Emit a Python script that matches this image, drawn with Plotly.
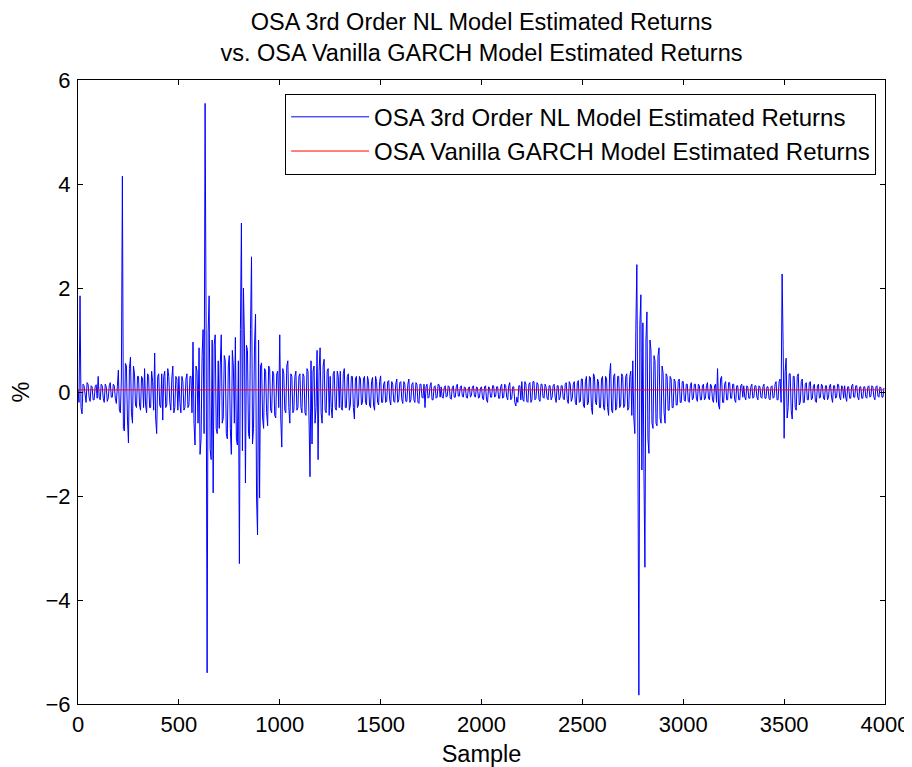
import plotly.graph_objects as go

sample_step = 10
mid_offset = 5

# OSA 3rd Order NL Model Estimated Returns (%) at samples 0, 10, 20, ... (10 values per 100 samples)
nl_returns = [
    0.05, 1.85, -0.42, 0.12, -0.2, 0.15, -0.18, 0.1, -0.15, 0.14,
    0.3, -0.15, 0.12, -0.2, 0.1, -0.12, 0.18, -0.1, 0.12, -0.22,
    0.42, -0.4, 4.15, -0.75, 0.5, -0.98, 0.67, -0.6, 0.35, -0.3,
    0.3, -0.35, 0.25, 0.45, -0.4, 0.3, -0.3, 0.2, 0.75, -0.8,
    0.35, -0.3, -0.54, 0.4, -0.25, 0.3, -0.35, 0.5, -0.3, 0.25,
    0.3, -0.4, 0.2, -0.3, 0.35, -0.25, 0.3, 0.96, -1.02, 0.4,
    0.85, -0.9, 1.2, 5.55, -5.4, 1.85, -1.3, -1.94, 1.1, -0.8,
    -0.7, 1.1, -0.5, 0.6, -0.9, 0.7, -1.2, 0.5, 1.05, -1.02,
    -3.3, 3.25, 2.0, -1.75, 0.8, -0.9, 2.6, -0.7, 1.5, -2.75,
    -2.04, 0.56, -0.7, 0.4, -0.65, 0.45, -0.4, 0.35, -0.5, 0.4,
    1.1, -1.06, 0.35, -0.4, 0.6, -0.6, 0.3, -0.35, 0.4, -0.3,
    0.35, -0.4, 0.3, -0.45, 0.4, -1.63, -1.0, 0.5, -0.3, -1.3,
    0.85, -0.6, 0.63, -0.4, 0.45, 0.3, -0.5, 0.4, -0.35, 0.3,
    0.4, -0.35, 0.45, -0.3, 0.35, -0.25, 0.3, -0.52, 0.3, -0.25,
    0.25, -0.2, 0.3, -0.25, 0.2, -0.3, 0.28, -0.35, 0.2, -0.25,
    0.31, -0.2, 0.2, -0.18, 0.22, -0.25, 0.15, -0.2, 0.25, -0.15,
    0.2, -0.22, 0.15, -0.18, 0.25, -0.15, 0.18, -0.2, 0.15, -0.22,
    0.15, -0.12, -0.3, 0.15, -0.1, 0.18, -0.15, 0.12, -0.1, 0.14,
    0.1, -0.12, 0.12, -0.08, 0.1, -0.14, 0.12, -0.1, 0.15, -0.08,
    0.12, -0.1, 0.08, -0.12, 0.1, -0.06, 0.12, -0.1, 0.08, -0.1,
    0.1, -0.15, 0.12, -0.2, 0.08, -0.1, 0.12, -0.08, 0.1, -0.12,
    0.15, -0.1, 0.12, -0.15, 0.18, -0.12, 0.1, -0.27, -0.2, 0.12,
    0.2, -0.18, 0.15, -0.2, 0.18, -0.15, 0.2, -0.12, 0.15, -0.18,
    0.15, -0.12, 0.1, -0.15, 0.12, -0.1, 0.15, -0.2, 0.12, -0.1,
    0.12, -0.15, 0.18, -0.22, 0.15, -0.12, 0.2, -0.25, 0.22, -0.18,
    0.25, -0.3, 0.3, -0.2, 0.28, -0.43, 0.3, -0.25, 0.2, -0.3,
    0.3, -0.35, 0.25, -0.45, 0.55, -0.4, 0.35, -0.3, 0.3, -0.25,
    0.3, -0.25, 0.35, -0.3, 0.4, 0.6, -0.8, 2.45, -5.83, 1.87,
    1.33, -3.37, 1.54, -1.18, 0.8, -0.7, 0.6, -0.65, 0.85, -0.6,
    0.37, -0.6, 0.3, -0.35, 0.25, -0.3, 0.2, -0.25, 0.25, -0.2,
    0.2, -0.18, 0.15, -0.2, 0.18, -0.12, 0.15, -0.18, 0.12, -0.15,
    0.15, -0.12, 0.18, -0.15, 0.12, -0.2, 0.15, 0.45, -0.33, 0.3,
    -0.2, 0.2, -0.15, 0.18, -0.12, 0.15, -0.2, 0.12, -0.15, 0.15,
    0.12, -0.15, 0.1, -0.12, 0.15, -0.1, 0.12, -0.15, 0.1, -0.12,
    0.15, -0.12, 0.1, -0.15, 0.12, -0.1, 0.2, -0.15, 0.25, 2.27,
    -0.89, 0.65, -0.3, 0.35, -0.52, 0.3, -0.35, 0.35, -0.2, 0.25,
    -0.2, 0.18, -0.15, 0.2, -0.12, 0.15, -0.2, 0.15, -0.1, 0.12,
    -0.15, 0.12, -0.1, 0.15, -0.2, 0.12, -0.1, 0.14, -0.15, 0.1,
    0.12, -0.18, 0.1, -0.12, 0.15, -0.1, 0.12, -0.15, 0.1, -0.12,
    0.1, -0.12, 0.12, -0.08, 0.1, -0.15, 0.12, -0.1, 0.08, -0.1,
]

# OSA 3rd Order NL Model Estimated Returns (%) at samples 5, 15, 25, ...
nl_returns_mid = [
    -0.2, -0.3, 0.15, -0.12, 0.18, -0.1, 0.12, -0.15, 0.1, -0.12,
    -0.1, 0.15, -0.12, 0.15, -0.18, 0.12, -0.1, 0.15, -0.12, 0.1,
    -0.35, 0.25, -0.7, 0.55, -0.5, 0.45, -0.4, 0.5, -0.25, 0.3,
    -0.25, 0.3, -0.3, -0.25, 0.35, -0.3, 0.4, -0.35, -0.5, 0.3,
    -0.25, 0.35, 0.3, -0.3, 0.45, -0.2, 0.25, -0.4, 0.3, -0.35,
    -0.2, 0.3, -0.35, 0.25, -0.3, 0.3, -0.4, -0.6, 0.5, -0.6,
    -1.2, 0.7, -0.8, 1.2, 1.15, -1.1, 1.0, 0.9, -0.7, 0.6,
    0.5, -0.6, 0.7, -0.8, 0.5, -0.7, 0.8, -0.6, -0.9, 0.6,
    1.2, -1.13, 1.0, 0.9, -0.8, 1.2, -1.0, 0.9, -2.04, 1.0,
    0.5, -0.5, 0.45, -0.4, 0.5, -0.35, 0.4, -0.45, 0.35, -0.3,
    -0.5, 0.45, -0.35, 0.5, -0.3, 0.35, -0.4, 0.3, -0.35, 0.3,
    -0.3, 0.35, -0.4, 0.45, -0.5, 0.6, 0.4, -0.6, 0.8, 0.4,
    -0.4, 0.5, -0.35, 0.4, -0.45, -0.3, 0.35, -0.3, 0.4, -0.3,
    -0.3, 0.35, -0.3, 0.3, -0.35, 0.3, -0.3, 0.25, -0.3, 0.3,
    -0.25, 0.25, -0.2, 0.3, -0.25, 0.2, -0.25, 0.3, -0.2, 0.2,
    -0.2, 0.15, -0.2, 0.2, -0.15, 0.2, -0.18, 0.15, -0.2, 0.18,
    -0.15, 0.2, -0.18, 0.15, -0.2, 0.15, -0.15, 0.18, -0.2, 0.15,
    -0.1, 0.15, 0.1, -0.12, 0.12, -0.15, 0.1, -0.12, 0.15, -0.1,
    -0.1, 0.08, -0.1, 0.12, -0.12, 0.08, -0.1, 0.1, -0.08, 0.1,
    -0.08, 0.1, -0.1, 0.08, -0.1, 0.1, -0.08, 0.1, -0.12, 0.08,
    -0.12, 0.1, -0.15, 0.1, -0.1, 0.12, -0.1, 0.1, -0.12, 0.1,
    -0.12, 0.15, -0.1, 0.12, -0.15, 0.1, -0.2, -0.1, 0.12, -0.15,
    -0.15, 0.2, -0.18, 0.15, -0.2, 0.2, -0.15, 0.18, -0.15, 0.15,
    -0.1, 0.15, -0.12, 0.12, -0.15, 0.12, -0.1, 0.12, -0.15, 0.12,
    -0.12, 0.15, -0.15, 0.2, -0.18, 0.15, -0.2, 0.18, -0.2, 0.25,
    -0.25, 0.2, -0.25, 0.3, -0.3, 0.35, -0.2, 0.25, -0.3, 0.25,
    -0.3, 0.3, -0.3, 0.35, -0.35, 0.3, -0.35, 0.3, -0.3, 0.35,
    -0.3, 0.3, -0.35, 0.3, -0.45, -0.5, 1.2, -0.9, 1.3, -1.5,
    -1.5, 1.0, -0.9, 1.0, -0.6, 0.7, -0.6, 0.7, -0.5, 0.5,
    -0.4, 0.35, -0.35, 0.3, -0.3, 0.25, -0.25, 0.2, -0.2, 0.2,
    -0.15, 0.15, -0.18, 0.12, -0.15, 0.15, -0.12, 0.15, -0.15, 0.12,
    -0.15, 0.12, -0.12, 0.15, -0.15, 0.12, -0.2, -0.25, 0.25, -0.2,
    0.15, -0.15, 0.18, -0.12, 0.15, -0.15, 0.12, -0.15, 0.12, -0.1,
    -0.1, 0.12, -0.12, 0.1, -0.12, 0.12, -0.1, 0.12, -0.1, 0.1,
    -0.12, 0.1, -0.12, 0.1, -0.12, 0.15, -0.15, 0.2, -0.2, 0.9,
    0.4, -0.5, 0.35, -0.35, 0.3, -0.3, 0.3, -0.25, 0.2, -0.2,
    0.15, -0.15, 0.18, -0.15, 0.12, -0.18, 0.12, -0.12, 0.15, -0.12,
    0.12, -0.15, 0.12, -0.1, 0.12, -0.12, 0.15, -0.1, 0.12, -0.12,
    -0.1, 0.1, -0.12, 0.12, -0.1, 0.12, -0.1, 0.1, -0.12, 0.1,
    -0.1, 0.1, -0.1, 0.12, -0.1, 0.1, -0.08, 0.1, -0.1, 0.08,
]

# OSA Vanilla GARCH Model Estimated Returns (%), nearly flat just above zero
garch_samples = [0, 1000, 2000, 3000, 3990]
garch_returns = [0.04, 0.04, 0.03, 0.04, 0.04]

x_ticks = [0, 500, 1000, 1500, 2000, 2500, 3000, 3500, 4000]
y_ticks = [-6, -4, -2, 0, 2, 4, 6]

# interleave the two digitised lists into one sample-ordered series
nl_samples, nl_values = [], []
for i, (v, vm) in enumerate(zip(nl_returns, nl_returns_mid)):
    nl_samples += [i * sample_step, i * sample_step + mid_offset]
    nl_values += [v, vm]

FONT = "Liberation Sans, Arial, sans-serif"
TXT = 23.5
TICK = 22

fig = go.Figure()
fig.add_trace(go.Scatter(
    x=nl_samples, y=nl_values, mode="lines",
    name="OSA 3rd Order NL Model Estimated Returns",
    line=dict(color="#0000ff", width=1),
))
fig.add_trace(go.Scatter(
    x=garch_samples, y=garch_returns, mode="lines",
    name="OSA Vanilla GARCH Model Estimated Returns",
    line=dict(color="#ff0000", width=1),
))

axis_common = dict(
    showline=True, linecolor="black", linewidth=1, mirror="ticks",
    ticks="inside", ticklen=5, tickcolor="black", showgrid=False,
    zeroline=False, automargin=False,
    tickfont=dict(family=FONT, size=TICK, color="black"),
)

fig.update_layout(
    template="none",
    width=904, height=759,
    margin=dict(l=70, r=27, t=72, b=63, autoexpand=False),
    paper_bgcolor="white", plot_bgcolor="white",
    font=dict(family=FONT, size=TXT, color="black"),
    title=dict(
        text="OSA 3rd Order NL Model Estimated Returns<br>vs. OSA Vanilla GARCH Model Estimated Returns",
        x=0.5, xref="paper", xanchor="center", y=0.971, yanchor="top", yref="container",
        font=dict(family=FONT, size=TXT, color="black"),
    ),
    xaxis=dict(range=[0, 4000], tickvals=x_ticks, ticklabelstandoff=1,
               title=dict(text="Sample", standoff=12, font=dict(family=FONT, size=TXT)),
               **axis_common),
    yaxis=dict(range=[-6, 6], tickvals=y_ticks, ticklabelstandoff=2,
               title=dict(text="%", standoff=14, font=dict(family=FONT, size=TXT)),
               **axis_common),
    legend=dict(
        x=0.989, xanchor="right", y=0.978, yanchor="top",
        bgcolor="white", bordercolor="black", borderwidth=1,
        font=dict(family=FONT, size=24, color="black"),
        itemwidth=78, tracegroupgap=0,
    ),
    showlegend=True,
)

fig.write_html("out.html")
